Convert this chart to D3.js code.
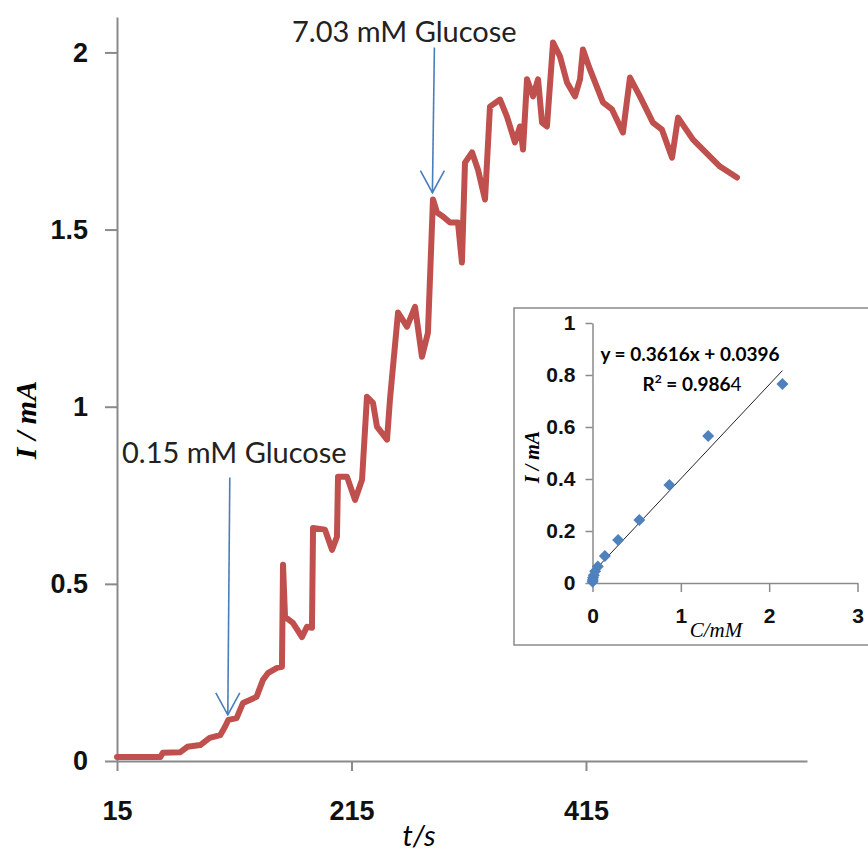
<!DOCTYPE html>
<html>
<head>
<meta charset="utf-8">
<script src="https://cdn.jsdelivr.net/npm/d3@7"></script>
<style>
  body { margin: 0; background: #fff; }
  svg { display: block; }
</style>
</head>
<body>
<svg></svg>
<script>
  const width = 868;
  const height = 855;

  // main trace: time (s) and current (mA)
  const timeS = [15, 52, 54, 69, 75, 86, 94, 103, 107, 110, 117, 122.5, 134, 139.5, 144, 151.5, 155.7,
    156.6, 158.3, 165, 172.8, 177, 181.3, 182.2, 192.4, 198.4, 202.6, 203.5, 211.2, 218, 224,
    228.2, 233.3, 236.7, 245.3, 247.8, 254.7, 262.3, 269.2, 275.1, 280.2, 284.5, 288, 293, 299,
    305.8, 309.2, 311.8, 317.8, 322.9, 328.9, 333.1, 341.7, 347.6, 354.4, 358.7, 361.3, 364.7,
    369.8, 374.1, 377.5, 381.7, 386.9, 392.8, 398.8, 405.6, 409.9, 412.4, 418.4, 429.5, 437.2,
    446.5, 452.5, 461, 472.1, 479.8, 488.4, 493.5, 506.3, 514.8, 529.3, 543.8];
  const currentMA = [0.011, 0.011, 0.023, 0.025, 0.040, 0.045, 0.065, 0.073, 0.096, 0.116, 0.121, 0.164, 0.181, 0.229, 0.249, 0.263, 0.266,
    0.554, 0.407, 0.390, 0.350, 0.379, 0.376, 0.658, 0.653, 0.596, 0.633, 0.802, 0.802, 0.737, 0.794,
    1.028, 1.011, 0.944, 0.907, 1.020, 1.266, 1.226, 1.282, 1.141, 1.209, 1.585, 1.548, 1.537, 1.520,
    1.520, 1.407, 1.689, 1.718, 1.669, 1.585, 1.847, 1.867, 1.819, 1.746, 1.791, 1.726, 1.924,
    1.876, 1.924, 1.802, 1.791, 2.028, 1.989, 1.915, 1.876, 1.924, 2.008, 1.952, 1.859, 1.839,
    1.774, 1.929, 1.876, 1.802, 1.782, 1.703, 1.816, 1.754, 1.726, 1.678, 1.647];
  const xTicks = [15, 215, 415];
  const yTicks = [0, 0.5, 1, 1.5, 2];

  // arrows: label, time, tip current, tail current
  const noteText = ["0.15 mM Glucose", "7.03 mM Glucose"];
  const noteTime = [109.5, 284];
  const noteTip = [0.13, 1.604];
  const noteTail = [0.80, 2.014];

  // calibration inset
  const concMM = [0.0015, 0.003, 0.006, 0.015, 0.03, 0.06, 0.14, 0.29, 0.53, 0.87, 1.31, 2.15];
  const insetI = [0.005, 0.012, 0.02, 0.03, 0.045, 0.063, 0.104, 0.165, 0.242, 0.377, 0.565, 0.765];
  const insetXTicks = [0, 1, 2, 3];
  const insetYTicks = [0, 0.2, 0.4, 0.6, 0.8, 1];
  const slope = 0.3616, intercept = 0.0396;

  const svg = d3.select('svg').attr('width', width).attr('height', height)
      .style('font-family', 'Lato, "Open Sans", sans-serif');

  const x = d3.scaleLinear().domain([15, 603.5]).range([117, 807]);
  const y = d3.scaleLinear().domain([0, 2.1]).range([761, 17]);

  const axisGray = '#8a8a8a';

  const yAxis = svg.append('g').attr('transform', 'translate(117,0)')
      .call(d3.axisLeft(y).tickValues(yTicks).tickSize(12).tickSizeOuter(0).tickPadding(17)
        .tickFormat(d3.format('')));
  const xAxis = svg.append('g').attr('transform', 'translate(0,761)')
      .call(d3.axisBottom(x).tickValues(xTicks).tickSize(10).tickSizeOuter(0).tickPadding(30)
        .tickFormat(d3.format('')));
  [xAxis, yAxis].forEach(g => {
    g.selectAll('path, line').attr('stroke', axisGray).attr('stroke-width', 2);
    g.selectAll('text').attr('fill', '#111').style('font-size', '27px').style('font-weight', 'bold');
  });

  svg.append('text')
      .attr('transform', 'translate(36,420) rotate(-90)')
      .attr('text-anchor', 'middle')
      .style('font-family', '"Liberation Serif", serif')
      .style('font-size', '30px').style('font-weight', 'bold').style('font-style', 'italic')
      .text('I / mA');
  svg.append('text')
      .attr('x', 419).attr('y', 846)
      .attr('text-anchor', 'middle')
      .style('font-size', '29px').style('font-style', 'italic')
      .text('t/s');

  const points = timeS.map((t, i) => [t, currentMA[i]]);
  const line = d3.line().x(d => x(d[0])).y(d => y(d[1]));
  svg.append('path')
      .datum(points)
      .attr('d', line)
      .attr('fill', 'none')
      .attr('stroke', '#c0504d')
      .attr('stroke-width', 6)
      .attr('stroke-linejoin', 'round')
      .attr('stroke-linecap', 'round');

  // annotation arrows
  const blue = '#4a7ebb';
  noteText.forEach((txt, i) => {
    const tx = x(noteTime[i]), ty = y(noteTip[i]), top = y(noteTail[i]);
    const g = svg.append('g').attr('stroke', blue).attr('stroke-width', 1.6).attr('fill', 'none');
    g.append('line').attr('x1', tx + 2).attr('y1', top).attr('x2', tx).attr('y2', ty);
    g.append('path').attr('d', `M${tx - 12},${ty - 22}L${tx},${ty}L${tx + 12},${ty - 22}`);
    svg.append('text')
        .attr('x', i === 0 ? 122 : 292).attr('y', top - (i === 0 ? 15 : 5))
        .attr('fill', '#222')
        .style('font-size', '29px')
        .text(txt);
  });

  // inset
  svg.append('rect')
      .attr('x', 514).attr('y', 308).attr('width', 380).attr('height', 337)
      .attr('fill', '#fff').attr('stroke', '#8a8a8a').attr('stroke-width', 1.5);

  const ix = d3.scaleLinear().domain([0, 3]).range([592.5, 857.5]);
  const iy = d3.scaleLinear().domain([0, 1]).range([583, 323]);

  const iyAxis = svg.append('g').attr('transform', 'translate(592.5,0)')
      .call(d3.axisLeft(iy).tickValues(insetYTicks).tickSize(7).tickSizeOuter(0).tickPadding(10)
        .tickFormat(d3.format('')));
  const ixAxis = svg.append('g').attr('transform', 'translate(0,583)')
      .call(d3.axisBottom(ix).tickValues(insetXTicks).tickSize(9).tickSizeOuter(0).tickPadding(16)
        .tickFormat(d3.format('')));
  [ixAxis, iyAxis].forEach(g => {
    g.selectAll('path, line').attr('stroke', axisGray).attr('stroke-width', 1.5);
    g.selectAll('text').attr('fill', '#111').style('font-size', '21px').style('font-weight', 'bold');
  });

  const xMin = d3.min(concMM), xMax = d3.max(concMM);
  svg.append('line')
      .attr('x1', ix(xMin)).attr('y1', iy(slope * xMin + intercept))
      .attr('x2', ix(xMax)).attr('y2', iy(slope * xMax + intercept))
      .attr('stroke', '#222').attr('stroke-width', 1);

  svg.append('g').selectAll('path')
      .data(concMM.map((c, i) => [c, insetI[i]]))
      .join('path')
      .attr('transform', d => `translate(${ix(d[0])},${iy(d[1])}) rotate(45)`)
      .attr('d', d3.symbol(d3.symbolSquare, 72))
      .attr('fill', '#4f81bd');

  svg.append('text')
      .attr('x', 690).attr('y', 361)
      .attr('text-anchor', 'middle')
      .style('font-size', '19px').style('font-weight', 'bold')
      .text(`y = ${slope}x + ${intercept}`);
  const r2 = svg.append('text')
      .attr('x', 692).attr('y', 391)
      .attr('text-anchor', 'middle')
      .style('font-size', '19px').style('font-weight', 'bold');
  r2.append('tspan').text('R');
  r2.append('tspan').attr('dy', -8).style('font-size', '12px').text('2');
  r2.append('tspan').attr('dy', 8).text(' = 0.986');
  r2.append('tspan').style('font-weight', 'normal').text('4');

  svg.append('text')
      .attr('transform', 'translate(539,457) rotate(-90)')
      .attr('text-anchor', 'middle')
      .style('font-family', '"Liberation Serif", serif')
      .style('font-size', '20px').style('font-weight', 'bold').style('font-style', 'italic')
      .text('I / mA');
  svg.append('text')
      .attr('x', 716).attr('y', 637)
      .attr('text-anchor', 'middle')
      .style('font-family', '"Liberation Serif", serif')
      .style('font-size', '21px').style('font-style', 'italic')
      .text('C/mM');
</script>
</body>
</html>
